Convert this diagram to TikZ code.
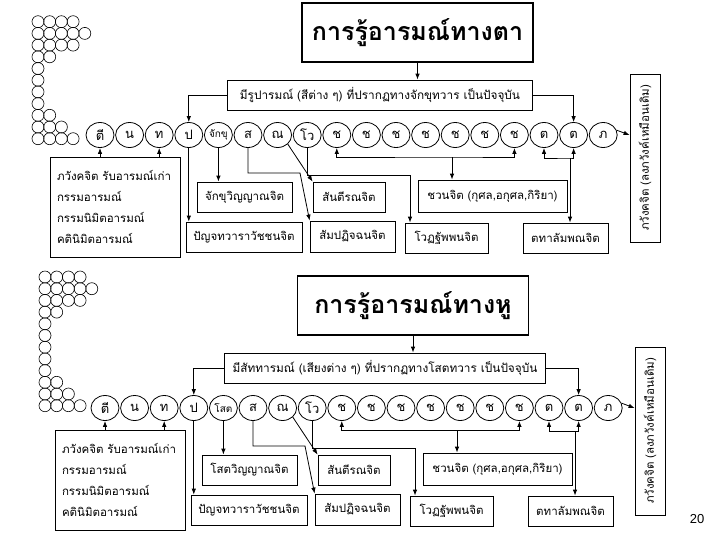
\documentclass[tikz,border=0pt]{standalone}
\usepackage{fontspec}
\setmainfont[Script=Thai]{Loma}
\newfontfamily\latinfont{Liberation Sans}
\usetikzlibrary{shapes.geometric,arrows.meta}

\tikzset{
  cell/.style={draw, ellipse, minimum width=28, minimum height=25, inner sep=0, font=\fontsize{13}{13}\selectfont},
  citta/.style={draw, minimum height=30, inner sep=0, font=\fontsize{11.5}{13}\selectfont},
  heading/.style={draw, line width=1.2pt, minimum width=231, minimum height=59, inner sep=0, font=\bfseries\fontsize{25}{25}\selectfont},
  flow/.style={-{Latex[length=6pt,width=4.5pt]}},
  bothflow/.style={{Latex[length=6pt,width=4.5pt]}-{Latex[length=6pt,width=4.5pt]}}
}

% bunch of small circles at the left
\newcommand{\grapes}[3]{%
  \foreach \n [count=\r from 0] in {#3}
    \foreach \k in {1,...,\n}
      \draw[line width=0.6pt] ({#1+11.7*(\k-1)}, {#2+11.7*\r}) circle[radius=6];
}

% one vithi: shift, prefix, title x, title, subtitle, door, vinyana
\newcommand{\vithi}[7]{%
  \begin{scope}[shift={#1}, name prefix=#2-]
    \node[heading] (title) at (#3, 32.5) {#4};
    \node[citta, minimum width=305, inner xsep=8, font=\fontsize{11.8}{13}\selectfont] (sub) at (380, 95) {#5};
    \foreach \t [count=\i from 0] in {ตี,น,ท,ป,{\fontsize{10}{10}\selectfont #6},ส,ณ,โว,ช,ช,ช,ช,ช,ช,ช,ต,ต,ภ}
      \node[cell] (c\i) at ({100+29.6*\i}, 135) {\t};
    \node[citta, minimum width=130, minimum height=100, align=left, text width=116,
      font=\fontsize{11.5}{21}\selectfont] (old) at (115, 207)
      {ภวังคจิต รับอารมณ์เก่า\\กรรมอารมณ์\\กรรมนิมิตอารมณ์\\คตินิมิตอารมณ์};
    \node[citta, minimum width=95] (vin) at (244.5, 197) {#7};
    \node[citta, minimum width=116] (pancha) at (244, 237) {ปัญจทวาราวัชชนจิต};
    \node[citta, minimum width=72] (sant) at (349, 197) {สันตีรณจิต};
    \node[citta, minimum width=85, minimum height=31] (samp) at (352.5, 236.5) {สัมปฏิจฉนจิต};
    \node[citta, minimum width=83] (votth) at (446.5, 238) {โวฏฐัพพนจิต};
    \node[citta, minimum width=149, minimum height=32] (javana) at (492.5, 196) {ชวนจิต (กุศล,อกุศล,กิริยา)};
    \node[citta, minimum width=85] (tadal) at (565.5, 238) {ตทาลัมพณจิต};
    \node[citta, minimum width=168, rotate=90] (bhav) at (645, 158) {ภวังคจิต (ลงภวังค์เหมือนเดิม)};
    \coordinate (bend5) at (300, 173);
    \coordinate (bend7) at (410, 175);
    \coordinate (jbar) at (452, 157);
    \coordinate (tbar) at (570, 158);
    \draw[flow] (title) -- (title |- sub.north);
    \draw[flow] (sub.west) -| (c3.north);
    \draw[flow] (sub.east) -| (c16.north);
    \draw[flow] (c0 |- old.north) -- (c0.south);
    \draw[flow] (c2 |- old.north) -- (c2.south);
    \draw[flow] (c3.south) -- (c3 |- pancha.north);
    \draw[flow] (c4.south) -- (c4 |- vin.north);
    \draw[flow] (c5.south) |- (bend5) -- (samp.north west);
    \draw[flow] (c6.south east) -- (sant.north west);
    \draw[flow] (c7.south) |- (bend7) -- (bend7 |- votth.north);
    \draw[bothflow] (c8.south) |- (jbar) -| (c14.south);
    \draw[flow] (jbar) -- (jbar |- javana.north);
    \draw[bothflow] (c15.south) |- (tbar) -| (c16.south);
    \draw[flow] (tbar) -- (tbar |- tadal.north);
    \draw[flow] (c17.20) -- (bhav.north |- c17);
  \end{scope}
}

\begin{document}
\begin{tikzpicture}[x=1pt, y=-1pt, line width=0.8pt]
  \fill[white] (0,0) rectangle (719,539);
  \useasboundingbox (0,0) rectangle (719,539);
  \grapes{38}{21.7}{4,5,4,2,1,1,1,1,2,3,4}
  \grapes{45}{277}{4,5,4,2,1,1,1,1,1,2,3,4}
  \vithi{(0,0)}{a}{417.5}{การรู้อารมณ์ทางตา}
    {มีรูปารมณ์ (สีต่าง ๆ) ที่ปรากฏทางจักขุทวาร เป็นปัจจุบัน}{จักขุ}{จักขุวิญญาณจิต}
  \vithi{(5,273)}{b}{408}{การรู้อารมณ์ทางหู}
    {มีสัททารมณ์ (เสียงต่าง ๆ) ที่ปรากฏทางโสตทวาร เป็นปัจจุบัน}{โสต}{โสตวิญญาณจิต}
  \node[font=\latinfont\fontsize{13}{13}\selectfont] (page) at (697, 519) {20};
\end{tikzpicture}
\end{document}
